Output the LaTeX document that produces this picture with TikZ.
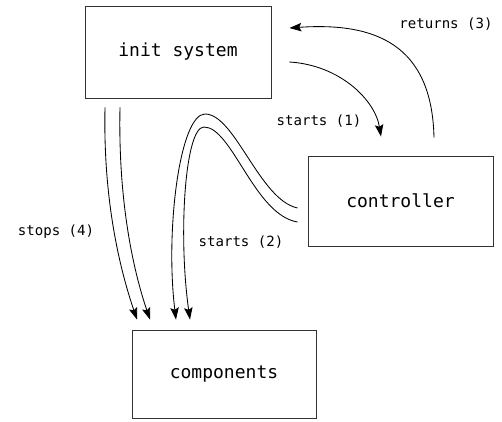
\documentclass[tikz,border=0pt]{standalone}
\usepackage{fontspec}
\setmonofont{DejaVu Sans Mono}
\usetikzlibrary{arrows.meta}
\tikzstyle{box} = [draw=black!80, line width=0.6pt, minimum width=4.65cm, minimum height=2.3cm, font=\ttfamily\fontsize{12.8}{15}\selectfont]
\tikzstyle{arrow} = [line width=0.6pt, -{Stealth[length=8.5pt,width=6pt,inset=1.5pt]}]

\begin{document}
\begin{tikzpicture}[x=0.025cm, y=-0.025cm, lbl/.style={font=\ttfamily\fontsize{10}{12}\selectfont}]
    \useasboundingbox (0,0) rectangle (502,422);
    \node[box] (init) at (178,52) {init system};
    \node[box, minimum width=4.625cm, minimum height=2.25cm] (ctrl) at (400.5,201) {controller};
    \node[box, minimum width=4.6cm, minimum height=2.2cm] (comp) at (224,374) {components};
    \node[lbl] (start1) at (319,121) {starts (1)};
    \node[lbl] (start2) at (241,242) {starts (2)};
    \node[lbl] (ret3) at (446,24) {returns (3)};
    \node[lbl] (stop4) at (56,232) {stops (4)};
    \coordinate (archA) at (205,114);
    \coordinate (archB) at (204,127);
    % init -> controller -> init
    \draw[arrow] ([shift={(18,10)}]init.east) .. controls +(50,3) and +(-6,-37) .. ([shift={(-19.5,-19)}]ctrl.north);
    \draw[arrow] ([shift={(33.5,-18)}]ctrl.north) .. controls +(-2,-93) and +(86,-6) .. ([shift={(18,-24)}]init.east);
    % controller -> components
    \draw[arrow] ([shift={(-10,7)}]ctrl.west) .. controls +(-38,-8) and +(30,0) .. (archA)
        .. controls +(-25,0) and +(-11,-90) .. ([shift={(-48,-10)}]comp.north);
    \draw[arrow] ([shift={(-10,21)}]ctrl.west) .. controls +(-43,-7) and +(28,0) .. (archB)
        .. controls +(-19,0) and +(-12,-85) .. ([shift={(-34,-10)}]comp.north);
    % init -> components
    \draw[arrow] ([shift={(-73,9)}]init.south) .. controls +(-2,93) and +(-17,-50) .. ([shift={(-87,-10)}]comp.north);
    \draw[arrow] ([shift={(-58,9)}]init.south) .. controls +(-2,93) and +(-17,-50) .. ([shift={(-74,-10)}]comp.north);
\end{tikzpicture}
\end{document}
